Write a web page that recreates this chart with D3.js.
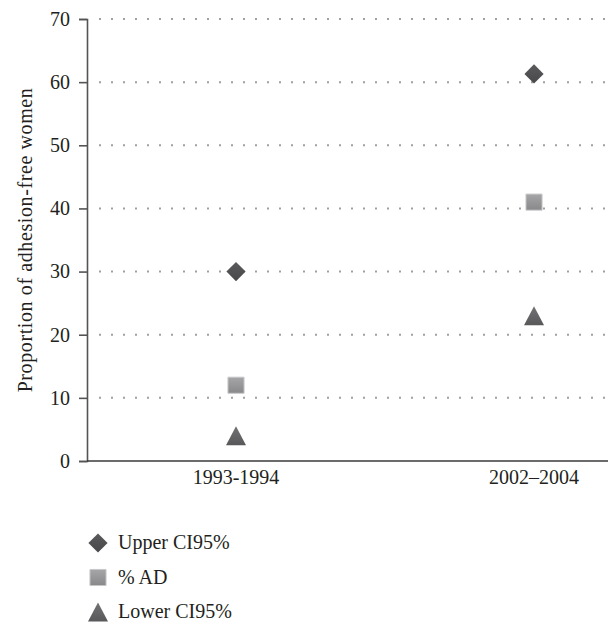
<!DOCTYPE html>
<html>
<head>
<meta charset="utf-8">
<script src="https://cdn.jsdelivr.net/npm/d3@7"></script>
<style>
  body { margin: 0; background: #fff; }
</style>
</head>
<body>
<svg id="chart"></svg>
<script>
// data
const periods = ["1993-1994", "2002\u20132004"];
const upperCI = [30, 61.3];
const pctAD = [12, 41];
const lowerCI = [4, 23];
const yTicks = [0, 10, 20, 30, 40, 50, 60, 70];
const seriesNames = ["Upper CI95%", "% AD", "Lower CI95%"];

const FONT = "Liberation Serif";
const width = 610, height = 624;
const margin = {top: 19, right: 2, bottom: 163, left: 87};
const innerW = width - margin.left - margin.right;
const innerH = height - margin.top - margin.bottom;

const svg = d3.select("#chart")
    .attr("width", width)
    .attr("height", height)
    .attr("font-family", FONT);

const defs = svg.append("defs");
// gentle shading like the original markers
function grad(id, top, bottom) {
    const g = defs.append("linearGradient").attr("id", id)
        .attr("x1", 0).attr("y1", 0).attr("x2", 0).attr("y2", 1);
    g.append("stop").attr("offset", "0%").attr("stop-color", top);
    g.append("stop").attr("offset", "100%").attr("stop-color", bottom);
}
grad("gDia", "#5a5a5c", "#48484a");
grad("gSq", "#a6a6a8", "#88888a");
grad("gTri", "#727274", "#58585a");

const g = svg.append("g")
    .attr("transform", `translate(${margin.left},${margin.top})`);

const x = d3.scalePoint()
    .domain(periods)
    .range([innerW * 0.286, innerW * 0.858]);

const y = d3.scaleLinear()
    .domain([0, 70])
    .range([innerH, 0]);

// dotted gridlines
g.append("g")
    .selectAll("line")
    .data(yTicks.filter(d => d > 0))
    .join("line")
    .attr("x1", 12)
    .attr("x2", innerW)
    .attr("y1", d => y(d))
    .attr("y2", d => y(d))
    .attr("stroke", "#a0a0a0")
    .attr("stroke-width", 2)
    .attr("stroke-dasharray", "2 10");

// y axis
const yAxis = g.append("g")
    .call(d3.axisLeft(y).tickValues(yTicks).tickSize(8).tickPadding(9))
    .attr("font-family", FONT)
    .attr("font-size", 20);
yAxis.select(".domain").attr("stroke", "#545456").attr("stroke-width", 1.6);
yAxis.selectAll(".tick line").attr("stroke", "#545456").attr("stroke-width", 1.6);
yAxis.selectAll(".tick text")
    .attr("font-family", FONT)
    .attr("font-size", 20)
    .attr("fill", "#231f20");

// x axis
g.append("line")
    .attr("x1", 0).attr("x2", innerW)
    .attr("y1", innerH).attr("y2", innerH)
    .attr("stroke", "#3a3a3c")
    .attr("stroke-width", 1.6);

g.append("g")
    .selectAll("text")
    .data(periods)
    .join("text")
    .attr("x", d => x(d))
    .attr("y", innerH + 23)
    .attr("text-anchor", "middle")
    .attr("font-family", FONT)
    .attr("font-size", 20)
    .attr("fill", "#231f20")
    .text(d => d);

// y axis title
svg.append("text")
    .attr("transform", `translate(32,${margin.top + innerH / 2}) rotate(-90)`)
    .attr("text-anchor", "middle")
    .attr("font-family", FONT)
    .attr("font-size", 20)
    .attr("letter-spacing", "0.6px")
    .attr("fill", "#231f20")
    .text("Proportion of adhesion-free women");

// triangle centred on its box, as in the original
const boxTriangle = {
    draw(ctx, size) {
        const w = Math.sqrt(size);
        const h = w * 0.95;
        ctx.moveTo(0, -h / 2);
        ctx.lineTo(w / 2, h / 2);
        ctx.lineTo(-w / 2, h / 2);
        ctx.closePath();
    }
};

const diamond = d3.symbol().type(d3.symbolDiamond2).size(235);
const square = d3.symbol().type(d3.symbolSquare2).size(330);
const triangle = d3.symbol().type(boxTriangle).size(400);

const series = [
    {name: seriesNames[0], values: upperCI, sym: diamond, fill: "url(#gDia)", stroke: "none"},
    {name: seriesNames[1], values: pctAD, sym: square, fill: "url(#gSq)", stroke: "#c8c8ca"},
    {name: seriesNames[2], values: lowerCI, sym: triangle, fill: "url(#gTri)", stroke: "none"}
];

series.forEach(s => {
    g.append("g")
        .selectAll("path")
        .data(s.values)
        .join("path")
        .attr("transform", (d, i) => `translate(${x(periods[i])},${y(d)})`)
        .attr("d", s.sym)
        .attr("fill", s.fill)
        .attr("stroke", s.stroke)
        .attr("stroke-width", 1);
});

// legend
const legend = svg.append("g")
    .attr("transform", "translate(98,543)");

const items = legend.selectAll("g")
    .data(series)
    .join("g")
    .attr("transform", (d, i) => `translate(0,${i * 34.5})`);

items.append("path")
    .attr("d", d => d.sym())
    .attr("fill", d => d.fill)
    .attr("stroke", d => d.stroke)
    .attr("stroke-width", 1);

items.append("text")
    .attr("x", 20)
    .attr("y", 6)
    .attr("font-family", FONT)
    .attr("font-size", 20)
    .attr("fill", "#231f20")
    .text(d => d.name);
</script>
</body>
</html>
